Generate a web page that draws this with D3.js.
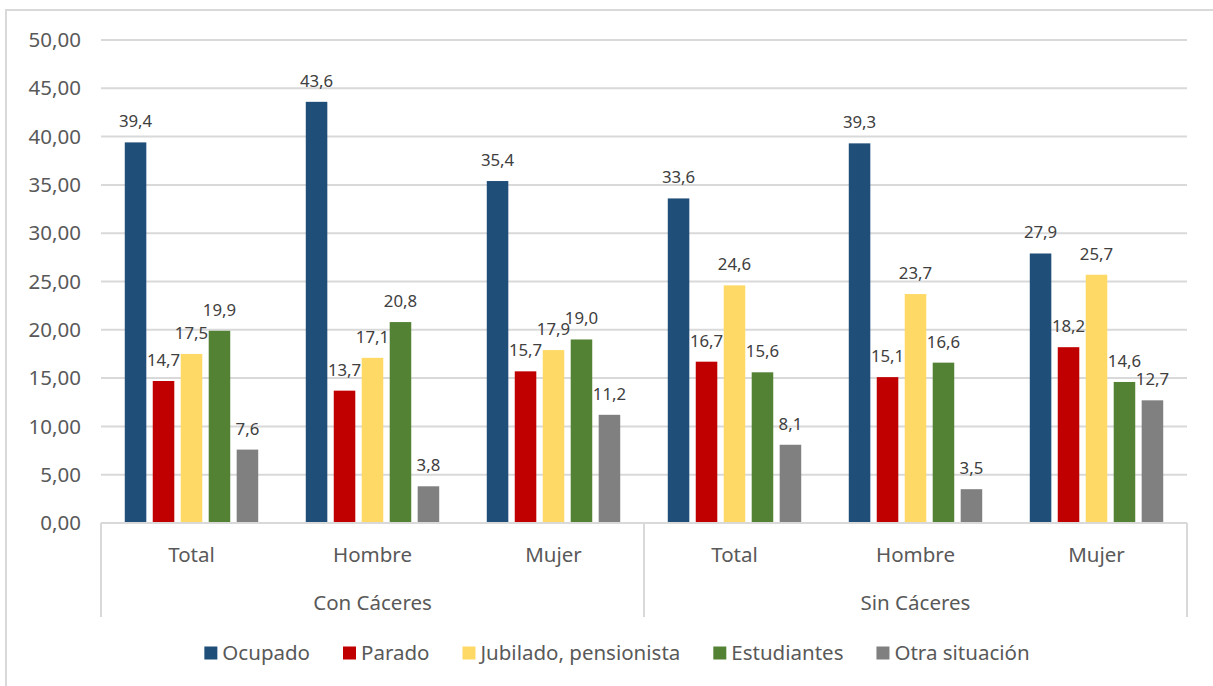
<!DOCTYPE html>
<html>
<head>
<meta charset="utf-8">
<script src="https://cdn.jsdelivr.net/npm/d3@7"></script>
<style>
  html, body { margin: 0; padding: 0; background: #fff; }
  svg { display: block; font-family: "Noto Sans", "Open Sans", sans-serif; }
</style>
</head>
<body>
<svg id="chart" width="1213" height="686"></svg>
<script>
// Situación laboral (%), por ámbito y sexo
const regions = ["Con Cáceres", "Sin Cáceres"];
const sexes = ["Total", "Hombre", "Mujer"];
const series = ["Ocupado", "Parado", "Jubilado, pensionista", "Estudiantes", "Otra situación"];
const colors = ["#1F4E79", "#C00000", "#FFD966", "#548235", "#808080"];
const yTicks = [0, 5, 10, 15, 20, 25, 30, 35, 40, 45, 50];

// Values per series, ordered Con Cáceres (Total, Hombre, Mujer), Sin Cáceres (Total, Hombre, Mujer)
const ocupado     = [39.4, 43.6, 35.4, 33.6, 39.3, 27.9];
const parado      = [14.7, 13.7, 15.7, 16.7, 15.1, 18.2];
const jubilado    = [17.5, 17.1, 17.9, 24.6, 23.7, 25.7];
const estudiantes = [19.9, 20.8, 19.0, 15.6, 16.6, 14.6];
const otra        = [7.6, 3.8, 11.2, 8.1, 3.5, 12.7];

const seriesValues = [ocupado, parado, jubilado, estudiantes, otra];

const groups = [];
regions.forEach(r => sexes.forEach(s => groups.push({ region: r, sex: s, key: r + "|" + s })));

const svg = d3.select("#chart");
const plotLeft = 101, plotRight = 1187, plotTop = 40, plotBottom = 523;
const axisFont = 20.5, labelFont = 16.8, textGray = "#595959";

// Outer frame
svg.append("path")
  .attr("d", `M6,686 V10 H1213`)
  .attr("fill", "none").attr("stroke", "#D9D9D9").attr("stroke-width", 2);

const y = d3.scaleLinear().domain([0, 50]).range([plotBottom, plotTop]);
const x0 = d3.scaleBand().domain(groups.map(g => g.key)).range([plotLeft, plotRight]).padding(0);
const x1 = d3.scaleBand().domain(series).range([0, x0.bandwidth()])
  .paddingInner(0.23).paddingOuter(0.85);

const fmt = v => d3.format(".2f")(v).replace(".", ",");
const fmt1 = v => d3.format(".1f")(v).replace(".", ",");

// Gridlines and y labels
svg.append("g").selectAll("line").data(yTicks.filter(t => t > 0)).join("line")
  .attr("x1", plotLeft).attr("x2", plotRight)
  .attr("y1", d => y(d)).attr("y2", d => y(d))
  .attr("stroke", "#D9D9D9").attr("stroke-width", 2);

svg.append("g").selectAll("text").data(yTicks).join("text")
  .attr("x", 81).attr("y", d => y(d)).attr("dy", "0.35em")
  .attr("text-anchor", "end").attr("font-size", axisFont).attr("fill", textGray)
  .text(fmt);

// Bars
const gGroups = svg.append("g").selectAll("g").data(groups).join("g")
  .attr("transform", d => `translate(${x0(d.key)},0)`);

gGroups.selectAll("rect")
  .data((d, gi) => series.map((s, si) => ({ s, si, v: seriesValues[si][gi] })))
  .join("rect")
  .attr("x", d => x1(d.s)).attr("width", x1.bandwidth())
  .attr("y", d => y(d.v)).attr("height", d => y(0) - y(d.v))
  .attr("fill", d => colors[d.si]);

gGroups.selectAll("text")
  .data((d, gi) => series.map((s, si) => ({ s, si, v: seriesValues[si][gi] })))
  .join("text")
  .attr("x", d => x1(d.s) + x1.bandwidth() / 2)
  .attr("y", d => y(d.v) - 15)
  .attr("text-anchor", "middle").attr("font-size", labelFont).attr("fill", "#404040")
  .text(d => fmt1(d.v));

// Category axis (two levels)
svg.append("line").attr("x1", plotLeft).attr("x2", plotRight)
  .attr("y1", plotBottom).attr("y2", plotBottom)
  .attr("stroke", "#D9D9D9").attr("stroke-width", 2);

const sepX = [plotLeft, x0(groups[3].key), plotRight];
svg.append("g").selectAll("line").data(sepX).join("line")
  .attr("x1", d => d).attr("x2", d => d).attr("y1", plotBottom).attr("y2", 617)
  .attr("stroke", "#D9D9D9").attr("stroke-width", 2);

svg.append("g").selectAll("text").data(groups).join("text")
  .attr("x", d => x0(d.key) + x0.bandwidth() / 2).attr("y", 555).attr("dy", "0.35em")
  .attr("text-anchor", "middle").attr("font-size", axisFont).attr("fill", textGray)
  .text(d => d.sex);

svg.append("g").selectAll("text").data(regions).join("text")
  .attr("x", (d, i) => (sepX[i] + sepX[i + 1]) / 2).attr("y", 603).attr("dy", "0.35em")
  .attr("text-anchor", "middle").attr("font-size", axisFont).attr("fill", textGray)
  .text(d => d);

// Legend
const legend = svg.append("g");
const items = legend.selectAll("g").data(series).join("g");
items.append("rect").attr("width", 13).attr("height", 13).attr("y", -6.5)
  .attr("fill", (d, i) => colors[i]);
items.append("text").attr("x", 18).attr("dy", "0.35em")
  .attr("font-size", axisFont).attr("fill", textGray).text(d => d);

let cx = 0;
const gap = 33;
items.each(function () {
  const w = this.getBBox().width;
  d3.select(this).attr("transform", `translate(${cx},653)`);
  cx += w + gap;
});
const total = cx - gap;
legend.attr("transform", `translate(${617 - total / 2},0)`);
</script>
</body>
</html>
